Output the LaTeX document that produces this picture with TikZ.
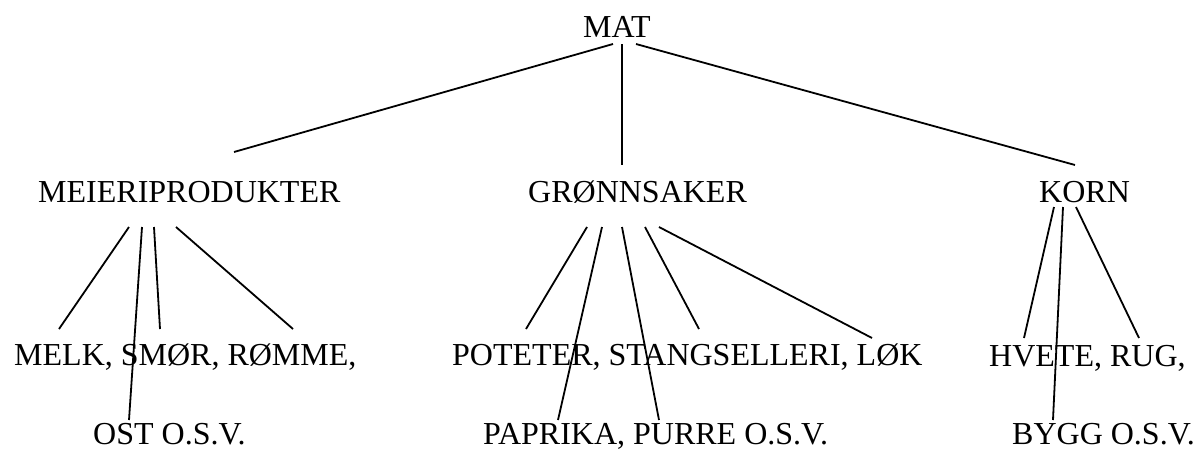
\documentclass[tikz,border=0pt]{standalone}
\usepackage{fontspec}
\setmainfont{Liberation Serif}
\tikzset{
  lbl/.style={inner sep=0pt, anchor=base west, font=\fontsize{32pt}{38pt}\selectfont},
  edge/.style={line width=1.8pt}
}
\begin{document}
\begin{tikzpicture}[x=1pt,y=-1pt]
\useasboundingbox (0,0) rectangle (1195,450);
% texts
\node[lbl] (mat) at (583,37) {MAT};
\node[lbl] (meieri) at (38,202) {MEIERIPRODUKTER};
\node[lbl] (gronn) at (528,202) {GRØNNSAKER};
\node[lbl] (korn) at (1039,202) {KORN};
\node[lbl] (melk) at (14,365) {MELK, SMØR, RØMME,};
\node[lbl] (ost) at (93,444) {OST O.S.V.};
\node[lbl] (poteter) at (452,365) {POTETER, STANGSELLERI, LØK};
\node[lbl] (paprika) at (483,444) {PAPRIKA, PURRE O.S.V.};
\node[lbl] (hvete) at (989,366) {HVETE, RUG,};
\node[lbl] (bygg) at (1012,444) {BYGG O.S.V.};
% connector end points
\coordinate (matL) at (613,44);
\coordinate (matM) at (622,44);
\coordinate (matR) at (636,44);
\coordinate (meieriTop) at (234,152);
\coordinate (gronnTop) at (622,165);
\coordinate (kornTop) at (1075,165);
\coordinate (meA) at (129,227);
\coordinate (meB) at (142,227);
\coordinate (meC) at (154,227);
\coordinate (meD) at (176,227);
\coordinate (melkE) at (59,329);
\coordinate (ostE) at (129,420);
\coordinate (smorE) at (160,329);
\coordinate (rommeE) at (293,329);
\coordinate (grA) at (587,227);
\coordinate (grB) at (602,227);
\coordinate (grC) at (622,227);
\coordinate (grD) at (645,227);
\coordinate (grE) at (659,227);
\coordinate (potE) at (526,329);
\coordinate (papE) at (558,420);
\coordinate (purE) at (659,420);
\coordinate (staE) at (699,329);
\coordinate (lokE) at (872,338);
\coordinate (koA) at (1054,207);
\coordinate (koB) at (1063,207);
\coordinate (koC) at (1076,207);
\coordinate (hveE) at (1024,338);
\coordinate (bygE) at (1053,420);
\coordinate (rugE) at (1139,338);
% connectors
\draw[edge] (matL) -- (meieriTop);
\draw[edge] (matM) -- (gronnTop);
\draw[edge] (matR) -- (kornTop);
\draw[edge] (meA) -- (melkE);
\draw[edge] (meB) -- (ostE);
\draw[edge] (meC) -- (smorE);
\draw[edge] (meD) -- (rommeE);
\draw[edge] (grA) -- (potE);
\draw[edge] (grB) -- (papE);
\draw[edge] (grC) -- (purE);
\draw[edge] (grD) -- (staE);
\draw[edge] (grE) -- (lokE);
\draw[edge] (koA) -- (hveE);
\draw[edge] (koB) -- (bygE);
\draw[edge] (koC) -- (rugE);
\end{tikzpicture}
\end{document}
